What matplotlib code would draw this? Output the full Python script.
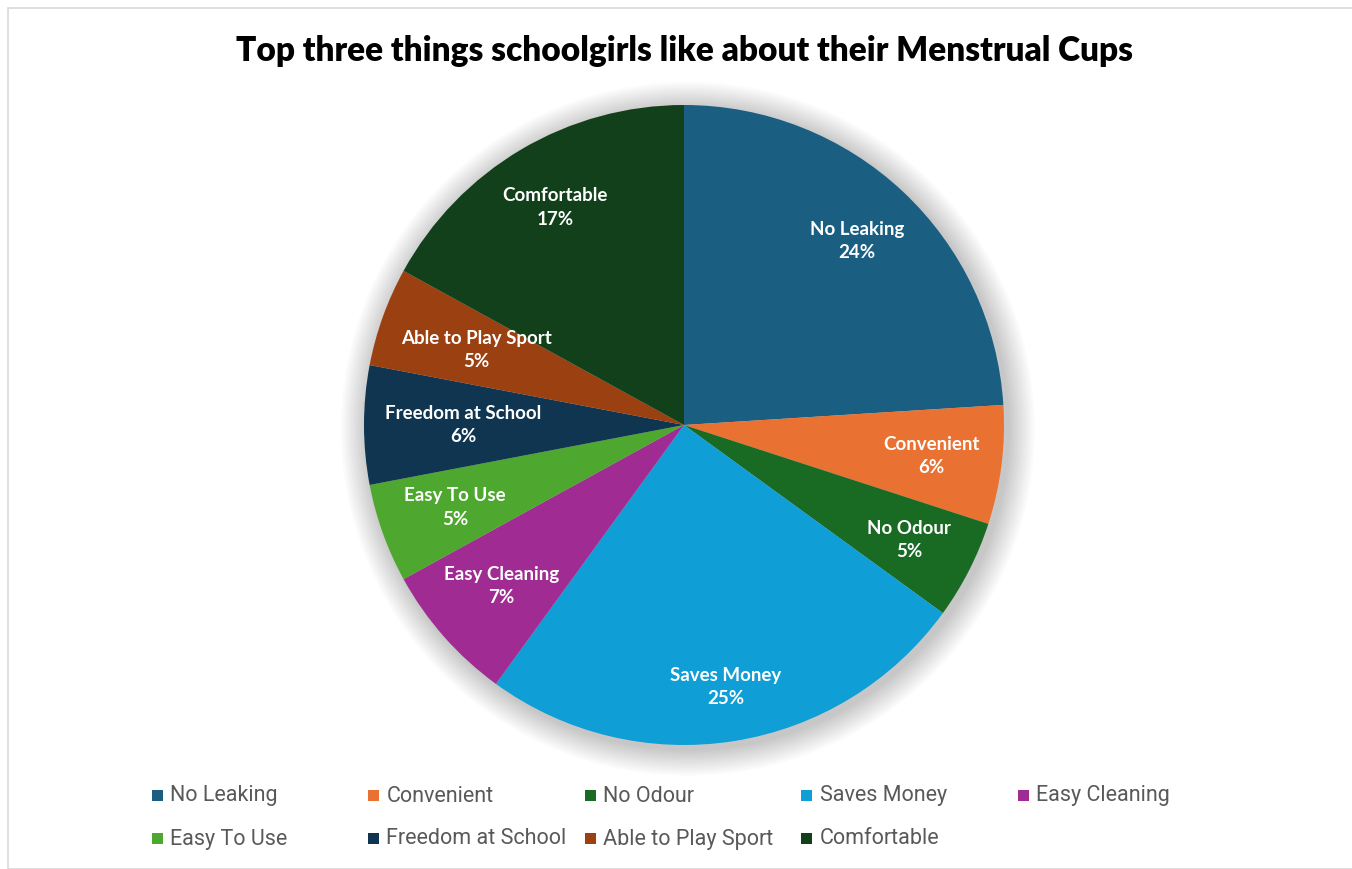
import matplotlib
matplotlib.use("Agg")
import matplotlib.pyplot as plt
import numpy as np
from matplotlib.patches import Circle, Rectangle

categories = ["No Leaking", "Convenient", "No Odour", "Saves Money", "Easy Cleaning",
              "Easy To Use", "Freedom at School", "Able to Play Sport", "Comfortable"]
shares = [24, 6, 5, 25, 7, 5, 6, 5, 17]
colors = ["#1A5E82", "#E97132", "#196B24", "#0F9ED5", "#A02B93",
          "#4EA72E", "#0F3550", "#9B4010", "#12401A"]

W, H = 1352, 869
fig = plt.figure(figsize=(W / 100, H / 100), dpi=100)

# light chart frame
fig.patches.append(Rectangle((8 / W, 0.0), 1.0, 1 - 8 / H, transform=fig.transFigure,
                             fill=False, edgecolor="#D9D9D9", lw=1.2))

fig.text(684 / W, 1 - 51 / H, "Top three things schoolgirls like about their Menstrual Cups",
         ha="center", va="center", fontsize=24, fontweight="heavy", family="Lato")

cx, cy, r = 684, 425, 320
ax = fig.add_axes([(cx - r) / W, (H - cy - r) / H, 2 * r / W, 2 * r / H])
ax.set_xlim(-1, 1)
ax.set_ylim(-1, 1)
ax.set_aspect("equal")
ax.axis("off")

# soft glow around the pie
for i in range(14):
    ax.add_patch(Circle((0.012, -0.012), 1.0 + 0.006 * (i + 1), color="#000000",
                        alpha=0.016, lw=0, zorder=0, clip_on=False))

labels = [f"{c}\n{v}%" for c, v in zip(categories, shares)]
wedges, texts = ax.pie(shares, colors=colors, startangle=90, counterclock=False,
                       labels=labels, labeldistance=0.85, radius=1.0,
                       wedgeprops=dict(linewidth=0),
                       textprops=dict(color="white", fontsize=13.5, fontweight="bold",
                                      family="Lato", linespacing=1.45))
ax.set_xlim(-1, 1)
ax.set_ylim(-1, 1)

# "best fit": pull each label inward until its box sits inside the pie
fig.canvas.draw()
renderer = fig.canvas.get_renderer()
inv = ax.transData.inverted()
for w, t in zip(wedges, texts):
    t.set_ha("center")
    t.set_va("center")
    ang = np.deg2rad((w.theta1 + w.theta2) / 2)
    for d in np.arange(0.87, 0.55, -0.01):
        t.set_position((d * np.cos(ang), d * np.sin(ang)))
        bb = t.get_window_extent(renderer)
        corners = inv.transform([[bb.x0, bb.y0], [bb.x0, bb.y1],
                                 [bb.x1, bb.y0], [bb.x1, bb.y1]])
        if np.all(np.hypot(corners[:, 0], corners[:, 1]) < 0.94):
            break

# legend, two rows of five equal-width columns
col_w = 216.5
x0, rows_y = 157, [795, 838]
for i, (c, col) in enumerate(zip(categories, colors)):
    row, colno = divmod(i, 5)
    x = x0 + colno * col_w
    y = rows_y[row]
    fig.patches.append(Rectangle(((x - 5.5) / W, 1 - (y + 5.5) / H), 11 / W, 11 / H,
                                 transform=fig.transFigure, color=col, lw=0))
    fig.text((x + 13) / W, 1 - (y + 1) / H, c, ha="left", va="center", fontsize=15.5,
             color="#595959", family="Roboto")

fig.savefig("out.png", dpi=100, facecolor="white")
